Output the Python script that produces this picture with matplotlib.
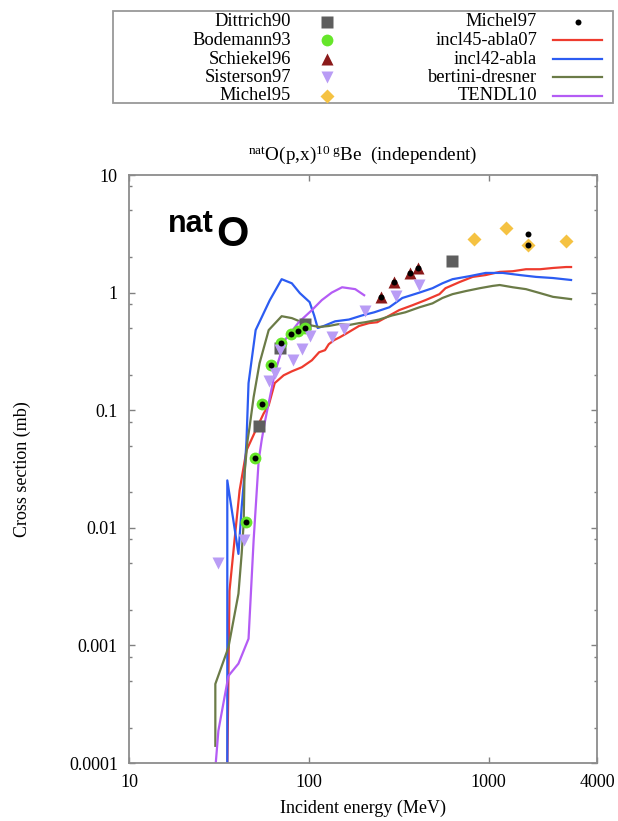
import matplotlib
matplotlib.use('Agg')
import matplotlib.pyplot as plt
from matplotlib.lines import Line2D
from matplotlib.patches import Rectangle
from matplotlib.ticker import FixedLocator, FixedFormatter, LogLocator, NullFormatter, NullLocator

plt.rcParams['font.family'] = ['Liberation Serif', 'DejaVu Serif']
plt.rcParams['mathtext.fontset'] = 'custom'
plt.rcParams['mathtext.rm'] = 'Liberation Serif'
plt.rcParams['mathtext.it'] = 'Liberation Serif:italic'
plt.rcParams['mathtext.bf'] = 'Liberation Serif:bold'

# ---------------- data (MeV, mb) ----------------
incl45_E = [35.2, 36.2, 38.6, 41.2, 45.0, 51.2, 56.1, 59.8, 64.6, 72.4, 80.4, 91.4, 104, 114, 123,
            129, 138, 149, 163, 174, 190, 216, 240, 266, 318, 376, 445, 532, 575, 689, 814,
            962, 1151, 1361, 1611, 1929, 2278, 2692, 2870]
incl45_xs = [9e-5, 0.0029, 0.0078, 0.0208, 0.0455, 0.070, 0.094, 0.11, 0.17, 0.198, 0.214, 0.232,
             0.266, 0.311, 0.324, 0.364, 0.394, 0.418, 0.452, 0.48, 0.52, 0.55, 0.56, 0.61, 0.71,
             0.78, 0.863, 0.97, 1.09, 1.23, 1.36, 1.41, 1.50, 1.52, 1.58, 1.58, 1.62, 1.65, 1.65]

incl42_E = [35.2, 35.2, 40.6, 42.3, 43.9, 45.0, 46.2, 50.6, 60.6, 70.6, 80.4, 89.1, 101, 107, 112,
            121, 140, 167, 198, 231, 280, 331, 412, 487, 553, 629, 783, 962, 1197, 1489, 1832,
            2278, 2870]
incl42_xs = [1e-5, 0.0253, 0.0060, 0.0149, 0.029, 0.055, 0.17, 0.48, 0.86, 1.30, 1.20, 0.99, 0.83,
             0.64, 0.50, 0.52, 0.57, 0.59, 0.64, 0.68, 0.75, 0.90, 1.0, 1.09, 1.20, 1.30, 1.38,
             1.47, 1.47, 1.41, 1.36, 1.33, 1.28]

bertini_E = [30.2, 30.2, 35.7, 40.6, 42.3, 43.4, 43.9, 45.6, 46.8, 49.3, 53.2, 59.8, 70.6, 80.4,
             91.4, 101, 114, 129, 147, 167, 190, 206, 246, 291, 344, 412, 487, 553, 629, 745,
             892, 1052, 1151, 1361, 1611, 1929, 2278, 2870]
bertini_xs = [1.4e-4, 4.7e-4, 9.6e-4, 0.00275, 0.0060, 0.0109, 0.029, 0.055, 0.0715, 0.129, 0.251,
              0.48, 0.63, 0.607, 0.56, 0.529, 0.51, 0.52, 0.54, 0.53, 0.55, 0.56, 0.59, 0.64,
              0.68, 0.75, 0.81, 0.90, 0.97, 1.03, 1.09, 1.14, 1.16, 1.11, 1.07, 0.99, 0.92, 0.88]

tendl_E = [30.2, 31.4, 35.7, 40.6, 46.2, 49.3, 52.6, 54.6, 56.7, 64.6, 73.5, 87.9, 104, 118, 134,
           153, 181, 203]
tendl_xs = [9e-5, 1.88e-4, 5.5e-4, 7.0e-4, 0.00114, 0.0078, 0.0374, 0.055, 0.077, 0.206, 0.394,
            0.56, 0.71, 0.863, 1.0, 1.11, 1.07, 0.95]

dittrich90_E = [52.6, 68.9, 95.1, 621]
dittrich90_xs = [0.073, 0.337, 0.539, 1.85]

bodemann93_E = [44.5, 49.9, 54.6, 61.3, 69.8, 79.3, 86.8, 95.1]
bodemann93_xs = [0.0113, 0.039, 0.112, 0.241, 0.371, 0.443, 0.47, 0.50]

schiekel96_E = [252, 298, 367, 406]
schiekel96_xs = [0.915, 1.23, 1.47, 1.62]

sisterson97_E = [31.4, 43.4, 59.8, 64.6, 68.9, 81.5, 91.4, 101, 134, 157, 206, 306, 412]
sisterson97_xs = [0.00506, 0.0079, 0.176, 0.206, 0.324, 0.266, 0.33, 0.426, 0.418, 0.489, 0.696,
                  0.934, 1.16]

michel95_E = [824, 1245, 1652, 2692]
michel95_xs = [2.86, 3.54, 2.54, 2.75]

michel97_E = [44.5, 49.9, 54.6, 61.3, 69.8, 79.3, 86.8, 95.1, 252, 298, 367, 406, 1652, 1652]
michel97_xs = [0.0113, 0.039, 0.112, 0.241, 0.371, 0.443, 0.47, 0.50, 0.915, 1.23, 1.47, 1.62,
               3.15, 2.54]

x_ticks = [10, 100, 1000, 4000]
x_ticklabels = ['10', '100', '1000', '4000']
y_ticks = [1e-4, 1e-3, 1e-2, 1e-1, 1, 10]
y_ticklabels = ['0.0001', '0.001', '0.01', '0.1', '1', '10']

# ---------------- styles ----------------
C_RED = '#ee3b2e'
C_BLUE = '#2c5cf2'
C_OLIVE = '#6b7b47'
C_VIOLET = '#b45cf5'

line_series = [
    ('incl45-abla07', incl45_E, incl45_xs, C_RED),
    ('incl42-abla', incl42_E, incl42_xs, C_BLUE),
    ('bertini-dresner', bertini_E, bertini_xs, C_OLIVE),
    ('TENDL10', tendl_E, tendl_xs, C_VIOLET),
]
marker_series = [
    ('Dittrich90', dittrich90_E, dittrich90_xs, dict(marker='s', color='#5e5e5e', ms=8.5)),
    ('Bodemann93', bodemann93_E, bodemann93_xs, dict(marker='o', color='#66e62a', ms=8.5)),
    ('Schiekel96', schiekel96_E, schiekel96_xs, dict(marker='^', color='#8b1a1a', ms=8.5)),
    ('Sisterson97', sisterson97_E, sisterson97_xs, dict(marker='v', color='#b99cf5', ms=8.5)),
    ('Michel95', michel95_E, michel95_xs, dict(marker='D', color='#f5c242', ms=7)),
]
michel97_style = dict(marker='o', color='black', ms=4.3)

W, H = 618, 821
fig = plt.figure(figsize=(W / 100, H / 100), dpi=100)
ax = fig.add_axes([129 / W, 1 - 763 / H, (597 - 129) / W, (763 - 175) / H])

for name, E, xs, c in line_series:
    ax.plot(E, xs, color=c, lw=1.6, zorder=2)
for name, E, xs, st in marker_series:
    ax.plot(E, xs, ls='none', marker=st['marker'], ms=st['ms'], color=st['color'],
            mec='none', zorder=3)
ax.plot(michel97_E, michel97_xs, ls='none', mec='none', zorder=4, **michel97_style)

ax.set_xscale('log')
ax.set_yscale('log')
ax.set_xlim(10, 4000)
ax.set_ylim(1e-4, 10)
ax.xaxis.set_major_locator(FixedLocator(x_ticks))
ax.xaxis.set_major_formatter(FixedFormatter(x_ticklabels))
ax.xaxis.set_minor_locator(NullLocator())
ax.yaxis.set_major_locator(FixedLocator(y_ticks))
ax.yaxis.set_major_formatter(FixedFormatter(y_ticklabels))
ax.yaxis.set_minor_locator(LogLocator(base=10, subs=(2, 5, 8)))
ax.yaxis.set_minor_formatter(NullFormatter())
ax.tick_params(which='both', direction='in', top=True, right=True, color='#808080',
               labelsize=13, pad=8)
ax.tick_params(which='major', length=4, width=1)
ax.tick_params(which='minor', length=2.5, width=1)
for s in ax.spines.values():
    s.set_color('#8c8c8c')
    s.set_linewidth(1.3)

ax.set_xlabel('Incident energy (MeV)', fontsize=13, labelpad=6)
fig.text(22 / W, 1 - 469 / H, 'Cross section (mb)', rotation=90, ha='center', va='center',
         fontsize=13)
ax.set_title(r'$^{\mathrm{nat}}$O(p,x)$^{10\ \mathrm{g}}$Be  (independent)', fontsize=13.8, pad=11)

ax.text(0.083, 0.903, 'nat', transform=ax.transAxes, family='Liberation Sans',
        weight='bold', fontsize=22, ha='left', va='baseline')
ax.text(0.186, 0.879, 'O', transform=ax.transAxes, family='Liberation Sans',
        weight='bold', fontsize=30, ha='left', va='baseline')

# ---------------- legend (gnuplot style key) ----------------
def fx(px):
    return px / W

def fy(py):
    return 1 - py / H

fig.add_artist(Rectangle((fx(113), fy(103)), fx(613) - fx(113), fy(11) - fy(103),
                         transform=fig.transFigure, fill=False, edgecolor='#999999', lw=1.3))
rows = [22, 40.5, 59, 77.5, 96]
for (name, E, xs, st), y in zip(marker_series, rows):
    fig.text(fx(291), fy(y), name, ha='right', va='center', fontsize=13.3)
    fig.add_artist(Line2D([fx(327)], [fy(y)], transform=fig.transFigure, ls='none',
                          marker=st['marker'], ms=st['ms'], color=st['color'], mec='none'))
fig.text(fx(537), fy(rows[0]), 'Michel97', ha='right', va='center', fontsize=13.3)
fig.add_artist(Line2D([fx(578)], [fy(rows[0])], transform=fig.transFigure, ls='none',
                      mec='none', **michel97_style))
for (name, E, xs, c), y in zip(line_series, rows[1:]):
    fig.text(fx(537), fy(y), name, ha='right', va='center', fontsize=13.3)
    fig.add_artist(Line2D([fx(553), fx(602)], [fy(y), fy(y)], transform=fig.transFigure,
                          color=c, lw=1.6))

fig.savefig('out.png', dpi=100)
